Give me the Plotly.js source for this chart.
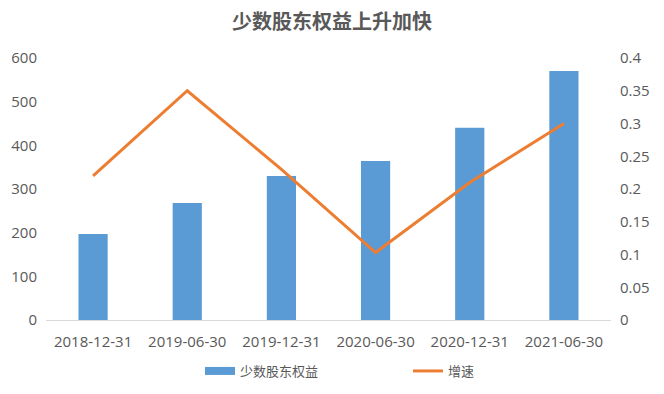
<!DOCTYPE html>
<html>
<head>
<meta charset="utf-8">
<script src="https://cdn.plot.ly/plotly-3.0.1.min.js"></script>
<style>html,body{margin:0;padding:0;background:#fff;}#chart{width:664px;height:394px;}</style>
</head>
<body>
<div id="chart"></div>
<script>
const categories = ["2018-12-31", "2019-06-30", "2019-12-31", "2020-06-30", "2020-12-31", "2021-06-30"];
const equityValues = [197, 268, 330, 364, 440, 570];
const growthValues = [0.22, 0.35, 0.23, 0.103, 0.21, 0.30];
const leftTicks = [0, 100, 200, 300, 400, 500, 600];
const rightTicks = [0, 0.05, 0.1, 0.15, 0.2, 0.25, 0.3, 0.35, 0.4];
const seriesNames = ["少数股东权益", "增速"];
const titleText = "少数股东权益上升加快";

const font = "'Open Sans', 'Noto Sans CJK SC', sans-serif";
const grey = "#595959";
const blue = "#5b9bd5";
const orange = "#ed7d31";

const traces = [
  {
    type: "bar", x: categories, y: equityValues, name: seriesNames[0],
    marker: {color: blue}, yaxis: "y", hoverinfo: "skip", showlegend: false
  },
  {
    // legend-only swatch so the bar key is drawn as a wide rectangle
    type: "scatter", mode: "lines", x: [null], y: [null], name: seriesNames[0],
    line: {color: blue, width: 8}, yaxis: "y", hoverinfo: "skip", showlegend: true
  },
  {
    type: "scatter", mode: "lines", x: categories, y: growthValues, name: seriesNames[1],
    line: {color: orange, width: 3}, yaxis: "y2", hoverinfo: "skip"
  }
];

const layout = {
  width: 664, height: 394,
  margin: {l: 46, r: 53, t: 58, b: 74},
  paper_bgcolor: "#fff", plot_bgcolor: "#fff",
  font: {family: font, color: grey, size: 15},
  title: {text: "<b>" + titleText + "</b>", x: 0.5, xanchor: "center", y: 0.945, yanchor: "middle",
          font: {family: "'Noto Sans CJK SC', sans-serif", size: 20, color: grey}},
  bargap: 0.69,
  showlegend: true,
  legend: {orientation: "h", xref: "container", yref: "container", x: 200 / 664, xanchor: "left",
           y: 1 - 371 / 394, yanchor: "middle",
           font: {family: "'Noto Sans CJK SC', sans-serif", size: 13, color: grey},
           entrywidth: 163, entrywidthmode: "pixels", itemwidth: 30},
  xaxis: {
    type: "category", showgrid: false, showline: true, linecolor: "#d9d9d9", linewidth: 1,
    ticks: "", ticklabelstandoff: 8, tickfont: {size: 15, color: grey}, zeroline: false
  },
  yaxis: {
    range: [0, 600], tickvals: leftTicks, showgrid: false, showline: false, zeroline: false,
    ticks: "", ticklabelstandoff: 8, tickfont: {size: 15, color: grey}
  },
  yaxis2: {
    range: [0, 0.4], tickvals: rightTicks, overlaying: "y", side: "right",
    showgrid: false, showline: false, zeroline: false, ticks: "", ticklabelstandoff: 8,
    tickfont: {size: 15, color: grey}
  }
};

Plotly.newPlot("chart", traces, layout, {staticPlot: true, displayModeBar: false});
</script>
</body>
</html>
